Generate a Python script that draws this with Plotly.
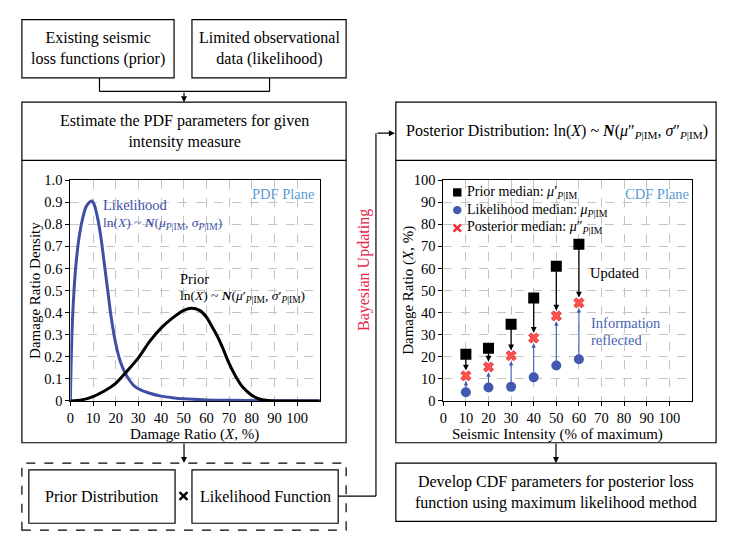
import plotly.graph_objects as go

W, H = 733, 540
FONT = "Liberation Serif, Times New Roman, serif"

# ---------------- data ----------------
# PDF plane: likelihood curve
pdf_like_x = [0, 0.3, 0.7, 1.5, 2.5, 4, 5.5, 7, 8.5, 9.5, 10.5, 12, 13.5, 15, 16.5,
              18, 20, 22, 24, 26, 28, 31, 35, 40, 45, 50, 60, 70, 85, 110]
pdf_like_y = [0, 0.15, 0.30, 0.48, 0.62, 0.75, 0.83, 0.88, 0.90, 0.905, 0.89, 0.83, 0.74,
              0.62, 0.50, 0.38, 0.26, 0.18, 0.13, 0.095, 0.07, 0.05, 0.035, 0.022, 0.015,
              0.01, 0.005, 0.003, 0.001, 0.0]
# PDF plane: prior curve
pdf_prior_x = [0, 5, 10, 15, 20, 25, 30, 35, 40, 45, 50, 53.5, 57, 60, 62, 64.5, 67,
               70, 73, 76, 80, 83, 87, 90, 100, 110]
pdf_prior_y = [0, 0.005, 0.02, 0.045, 0.08, 0.135, 0.195, 0.27, 0.33, 0.375, 0.41, 0.42,
               0.41, 0.38, 0.345, 0.30, 0.245, 0.17, 0.11, 0.063, 0.026, 0.01, 0.002, 0,
               0, 0]

# CDF plane: medians vs seismic intensity
intensity = [10, 20, 30, 40, 50, 60]
prior_median = [21.2, 23.9, 34.7, 46.6, 61.0, 71.0]
like_median = [4.0, 6.1, 6.4, 10.7, 16.1, 18.9]
post_median = [11.4, 15.4, 20.5, 28.5, 38.5, 44.4]

pdf_xticks = list(range(0, 101, 10))
pdf_yticks = [round(i * 0.1, 1) for i in range(11)]
pdf_yticklabels = ["0", "0.1", "0.2", "0.3", "0.4", "0.5", "0.6", "0.7", "0.8", "0.9", "1.0"]
cdf_xticks = list(range(0, 101, 10))
cdf_yticks = list(range(0, 101, 10))

legend_labels = ["Prior median: <i>μ</i>′<sub><i>P</i>|IM</sub>",
                 "Likelihood median: <i>μ</i><sub><i>P</i>|IM</sub>",
                 "Posterior median: <i>μ</i>″<sub><i>P</i>|IM</sub>"]

# ---------------- helpers ----------------
def px(x):
    return x / W

def py(y):
    return 1 - y / H

BLUE = "#3F4FA6"
MBLUE = "#4259B0"
LBLUE = "#5B9BD5"

fig = go.Figure()

fig.add_trace(go.Scatter(x=pdf_like_x, y=pdf_like_y, mode="lines", name="Likelihood",
                         line=dict(color=BLUE, width=3, shape="spline", smoothing=0.8),
                         xaxis="x", yaxis="y", showlegend=False))
fig.add_trace(go.Scatter(x=pdf_prior_x, y=pdf_prior_y, mode="lines", name="Prior",
                         line=dict(color="black", width=3, shape="spline", smoothing=0.8),
                         xaxis="x", yaxis="y", showlegend=False))

fig.add_trace(go.Scatter(x=intensity, y=prior_median, mode="markers",
                         marker=dict(symbol="square", size=11, color="black"),
                         xaxis="x2", yaxis="y2", name=legend_labels[0], showlegend=False))
fig.add_trace(go.Scatter(x=intensity, y=like_median, mode="markers",
                         marker=dict(symbol="circle", size=10, color=MBLUE),
                         xaxis="x2", yaxis="y2", name=legend_labels[1], showlegend=False))
fig.add_trace(go.Scatter(x=intensity, y=post_median, mode="markers",
                         marker=dict(symbol="x", size=9, color="#FF5050",
                                     line=dict(width=0.8, color="#E02828")),
                         xaxis="x2", yaxis="y2", name=legend_labels[2], showlegend=False))

axis_common = dict(showline=True, linecolor="black", linewidth=1, mirror=True,
                   ticks="outside", ticklen=4, tickcolor="black", showgrid=True,
                   gridcolor="#c4c4c4", griddash="dash", gridwidth=1, zeroline=False,
                   tickfont=dict(family=FONT, size=14.5, color="black"))

fig.update_layout(
    width=W, height=H, margin=dict(l=0, r=0, t=0, b=0),
    paper_bgcolor="white", plot_bgcolor="white",
    font=dict(family=FONT, color="black"),
    xaxis=dict(domain=[px(66.7), px(317.5)], range=[0, 110], tickvals=pdf_xticks,
               anchor="y", **axis_common),
    yaxis=dict(domain=[py(405), py(177.3)], range=[0, 1], tickvals=pdf_yticks,
               ticktext=pdf_yticklabels, anchor="x", **axis_common),
    xaxis2=dict(domain=[px(441.7), px(691.7)], range=[0, 110], tickvals=cdf_xticks,
                anchor="y2", **axis_common),
    yaxis2=dict(domain=[py(405), py(177.3)], range=[0, 100], tickvals=cdf_yticks,
                anchor="x2", **axis_common),
    showlegend=False,
)

shapes = []

def rect(x0, y0, x1, y1, dash="solid", width=1.2):
    shapes.append(dict(type="rect", xref="paper", yref="paper",
                       x0=px(x0), x1=px(x1), y0=py(y1), y1=py(y0),
                       line=dict(color="black", width=width, dash=dash)))

def line(x0, y0, x1, y1, width=1.2):
    shapes.append(dict(type="line", xref="paper", yref="paper",
                       x0=px(x0), x1=px(x1), y0=py(y0), y1=py(y1),
                       line=dict(color="black", width=width)))

# top boxes
rect(18, 12, 171, 72)
rect(189, 12, 344, 72)
line(96, 72, 96, 86)
line(267, 72, 267, 86)
line(96, 86, 267, 86)
# main left panel
rect(18, 97, 344, 448)
line(18, 157, 344, 157)
# dashed product box
rect(18, 469, 344, 538, dash="dash")
rect(25, 476, 172, 531)
rect(189, 476, 336, 531)
# multiplication sign between the two inner boxes
mx0, mx1, my0, my1 = px(176.5), px(184.5), py(507), py(499)
shapes.append(dict(type="path", xref="paper", yref="paper",
                   path=f"M {mx0} {my0} L {mx1} {my1} M {mx0} {my1} L {mx1} {my0}",
                   line=dict(color="black", width=2.4)))
# bayesian connector
line(336, 503, 374, 503)
line(374, 503, 374, 129)
# right panel
rect(394, 97, 716, 448)
line(394, 157, 716, 157)
rect(394, 469, 716, 529)

# legend symbols (CDF plane)
shapes.append(dict(type="rect", xref="paper", yref="paper",
                   x0=px(451.5), x1=px(460), y0=py(194.3), y1=py(185.8),
                   fillcolor="black", line=dict(width=0)))
shapes.append(dict(type="circle", xref="paper", yref="paper",
                   x0=px(451.5), x1=px(460), y0=py(212.6), y1=py(204.1),
                   fillcolor=MBLUE, line=dict(width=0)))
cx0, cx1, cy0, cy1 = px(452), px(459.5), py(230.5), py(223)
shapes.append(dict(type="path", xref="paper", yref="paper",
                   path=f"M {cx0} {cy0} L {cx1} {cy1} M {cx0} {cy1} L {cx1} {cy0}",
                   line=dict(color="#E83030", width=2.6)))

fig.update_layout(shapes=shapes)

ann = []

def text(x, y, s, size=16, color="black", xanchor="center", angle=0):
    ann.append(dict(xref="paper", yref="paper", x=px(x), y=py(y), text=s,
                    showarrow=False, xanchor=xanchor, yanchor="middle",
                    textangle=angle, font=dict(family=FONT, size=size, color=color)))

def arrow(x, y, dx, dy):
    # head at (x, y), tail offset by (dx, dy) pixels
    ann.append(dict(xref="paper", yref="paper", x=px(x), y=py(y), ax=dx, ay=dy,
                    axref="pixel", ayref="pixel", text="", showarrow=True,
                    arrowhead=2, arrowsize=1, arrowwidth=1.2, arrowcolor="black"))

text(94.5, 42, "Existing seismic<br>loss functions (prior)")
text(266.5, 42, "Limited observational<br>data (likelihood)")
text(181, 127, "Estimate the PDF parameters for given<br>intensity measure")
text(556, 127, "Posterior Distribution: ln(<i>X</i>) ~ <b><i>N</i></b>(<i>μ</i>″<sub><i>P</i>|IM</sub>, "
               "<i>σ</i>″<sub><i>P</i>|IM</sub>)")
text(555, 499, "Develop CDF parameters for posterior loss<br>function using maximum likelihood method")
text(98.5, 503, "Prior Distribution")
text(262.5, 503, "Likelihood Function")
text(362, 270, "Bayesian Updating", size=16, color="#E8264B", angle=-90)

arrow(181, 97, 0, -11)
arrow(181, 469, 0, -21)
arrow(393, 129, -19, 0)
arrow(555, 469, 0, -21)

# axis titles
text(31.7, 291, "Damage Ratio Density", size=15, angle=-90)
text(192, 440, "Damage Ratio (<i>X</i>, %)", size=15)
text(406.7, 291, "Damage Ratio (<i>X</i>, %)", size=15, angle=-90)
text(557, 440, "Seismic Intensity (% of maximum)", size=15)

# legend texts (CDF plane)
for lbl, yy in zip(legend_labels, [190, 208.3, 226.7]):
    text(464, yy, lbl, size=14, xanchor="left")

# in-plot labels
def dtext(xref, yref, x, y, s, size=14.5, color="black", xanchor="left"):
    ann.append(dict(xref=xref, yref=yref, x=x, y=y, text=s, showarrow=False,
                    xanchor=xanchor, yanchor="middle",
                    font=dict(family=FONT, size=size, color=color)))

dtext("x", "y", 108.5, 0.935, "PDF Plane", color=LBLUE, xanchor="right")
dtext("x", "y", 13.5, 0.887, "Likelihood", color=BLUE)
dtext("x", "y", 13.5, 0.805,
      "ln(<i>X</i>) ~ <b><i>N</i></b>(<i>μ</i><sub><i>P</i>|IM</sub>, <i>σ</i><sub><i>P</i>|IM</sub>)",
      size=13.5, color=BLUE)
dtext("x", "y", 47.5, 0.553, "Prior")
dtext("x", "y", 47.5, 0.472,
      "ln(<i>X</i>) ~ <b><i>N</i></b>(<i>μ</i>′<sub><i>P</i>|IM</sub>, <i>σ</i>′<sub><i>P</i>|IM</sub>)",
      size=13.5)

dtext("x2", "y2", 109.5, 93.5, "CDF Plane", color=LBLUE, xanchor="right")
dtext("x2", "y2", 64, 58, "Updated")
dtext("x2", "y2", 64.5, 35.5, "Information", color="#4A64B4")
dtext("x2", "y2", 64.5, 27.6, "reflected", color="#4A64B4")

# update arrows: prior -> posterior (black), likelihood -> posterior (blue)
for xi, pr, lk, po in zip(intensity, prior_median, like_median, post_median):
    ann.append(dict(xref="x2", yref="y2", axref="x2", ayref="y2", x=xi, y=po + 2.4,
                    ax=xi, ay=pr, text="", showarrow=True, arrowhead=2, arrowsize=0.9,
                    arrowwidth=1.3, arrowcolor="black"))
    ann.append(dict(xref="x2", yref="y2", axref="x2", ayref="y2", x=xi, y=po - 2.4,
                    ax=xi, ay=lk, text="", showarrow=True, arrowhead=2, arrowsize=0.8,
                    arrowwidth=1.1, arrowcolor=MBLUE))

fig.update_layout(annotations=ann)

fig.write_html("out.html", config={"displayModeBar": False},
               post_script="document.body.style.margin='0';")
